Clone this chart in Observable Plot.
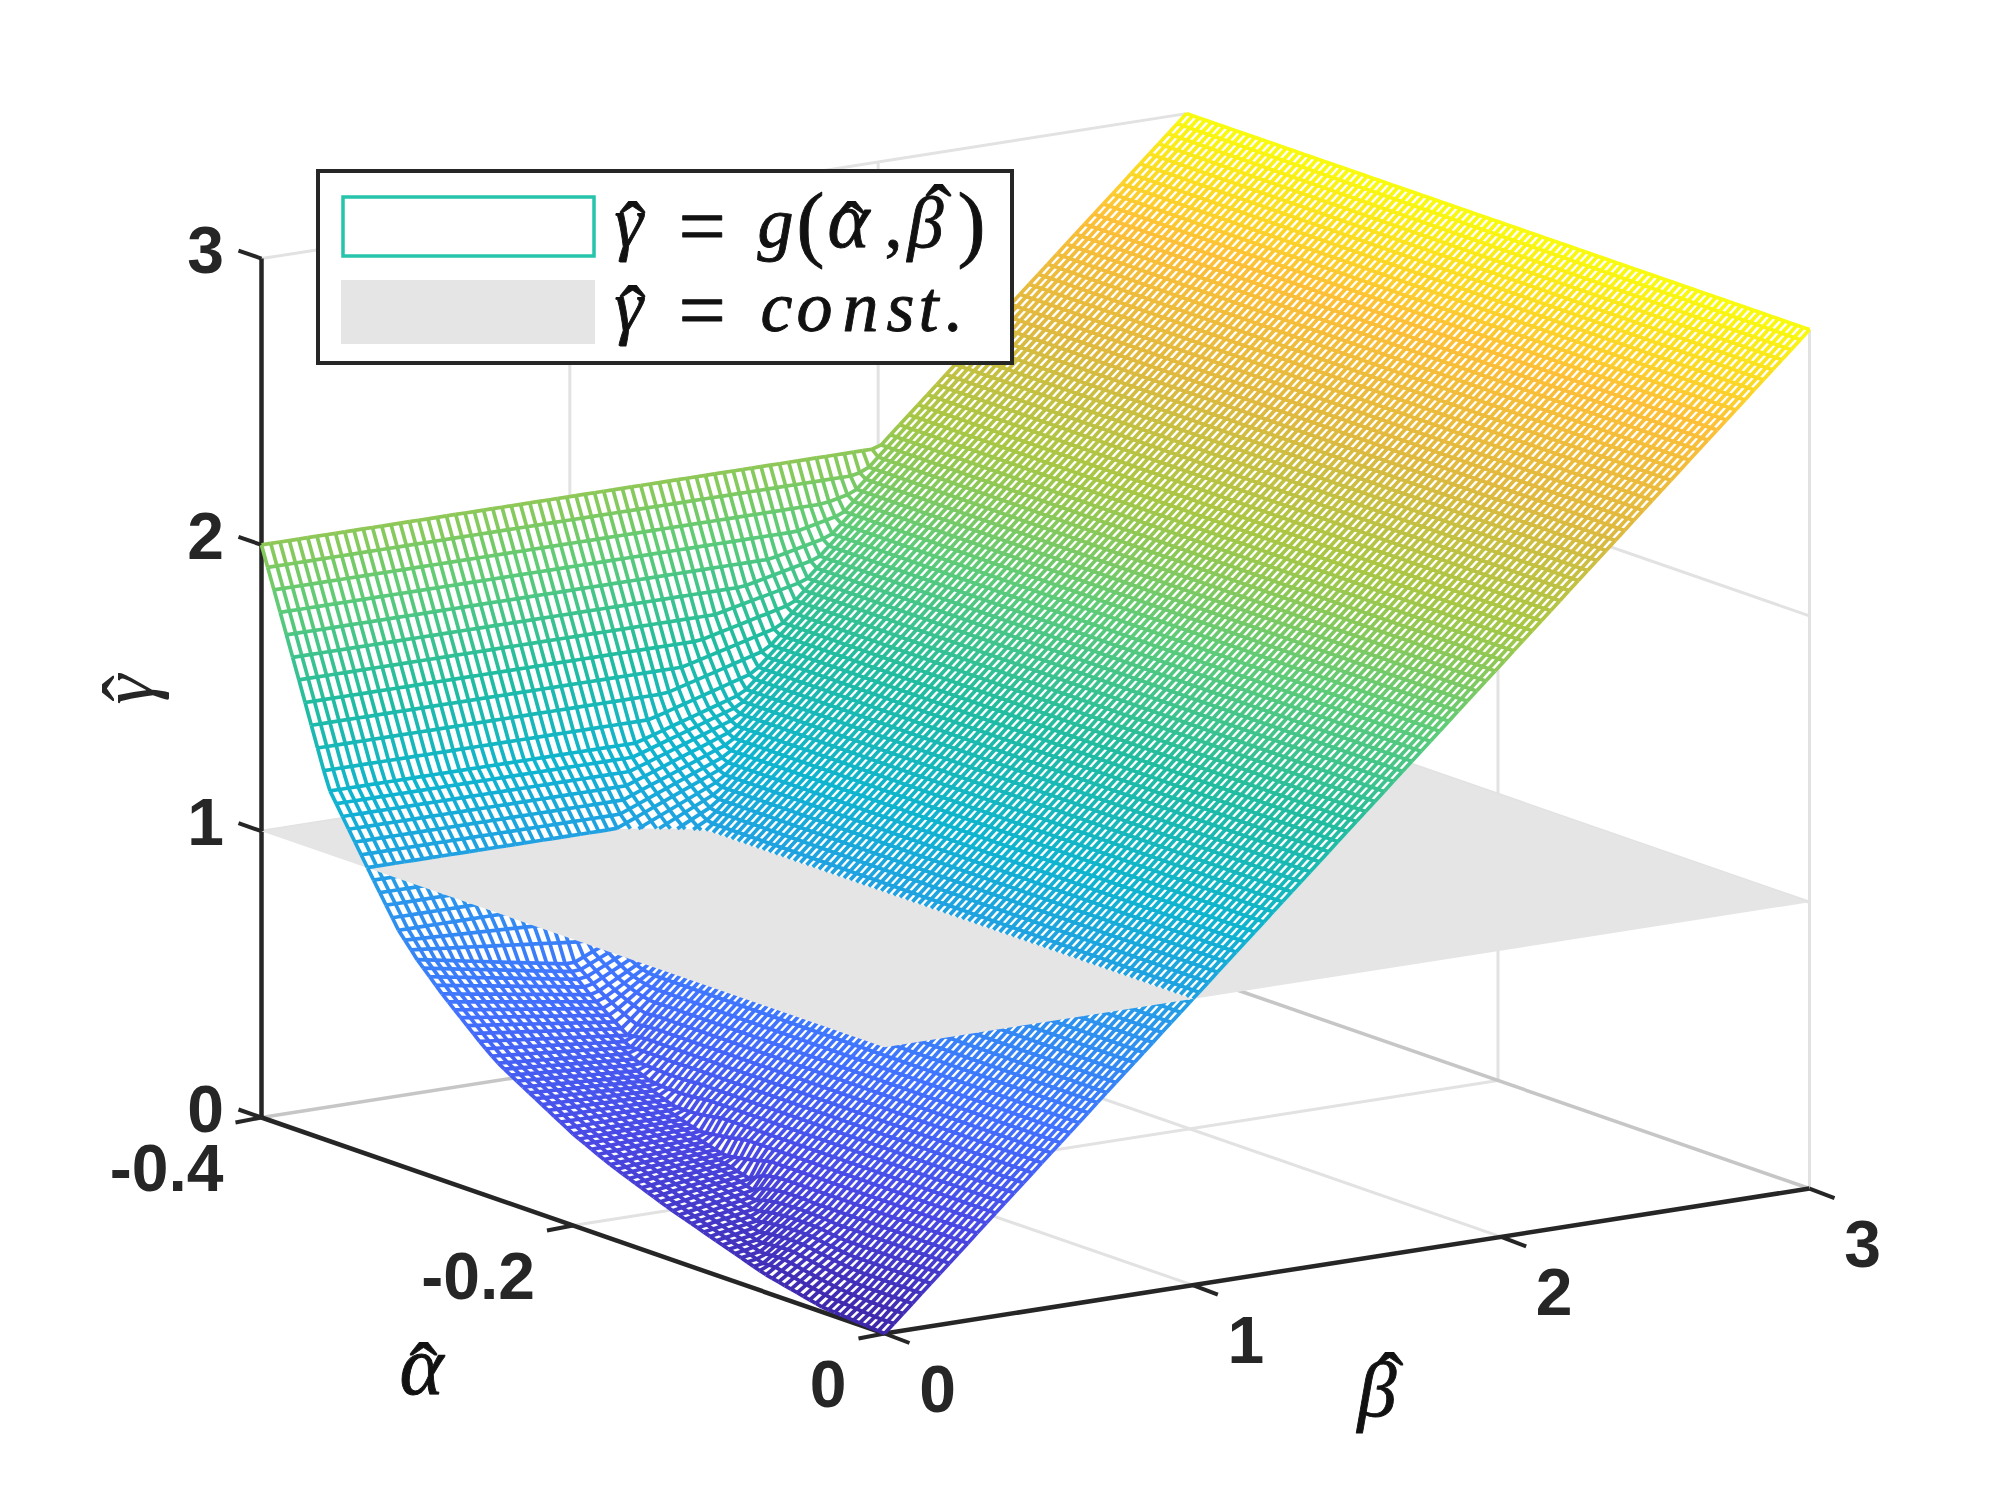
<!DOCTYPE html>
<html>
<head>
<meta charset="utf-8">
<style>html,body{margin:0;padding:0;background:#fff}svg{display:block}</style>
<script src="https://cdn.jsdelivr.net/npm/d3@7"></script>
<script src="https://cdn.jsdelivr.net/npm/@observablehq/plot@0.6"></script>
</head>
<body>
<div id="chart"></div>
<script>
// Axis ticks
const alphaTicks = [-0.4, -0.2, 0];
const betaTicks = [0, 1, 2, 3];
const gammaTicks = [0, 1, 2, 3];
const gammaConst = 1;

// Surface profile, per alpha
const alphaKnots = [-0.4, -0.376, -0.357, -0.331, -0.312, -0.3, -0.283, -0.26, -0.249, -0.234, -0.2, -0.177, -0.139, -0.077, -0.04, 0];
const plateauGamma = [2, 1.574, 1.233, 0.992, 0.82, 0.74, 0.645, 0.53, 0.48, 0.43, 0.32, 0.26, 0.178, 0.063, 0.017, 0];
const rampStartBeta = [2, 1.35, 1.0, 0.8, 0.7, 0.5, 0.49, 0.48, 0.44, 0.4, 0.35, 0.32, 0.27, 0, 0, 0];
const valleyGamma = [2, 1.574, 1.233, 0.992, 0.82, 0.64, 0.56, 0.47, 0.44, 0.4, 0.33, 0.29, 0.23, 0.063, 0.017, 0];
const joinBeta = [2, 1.644, 1.347, 1.15, 1.0, 0.76, 0.66, 0.58, 0.55, 0.5, 0.41, 0.36, 0.31, 0.22, 0.12, 0];

// Colormap of the surface (parula stops against gamma)
const colorGamma = [0, 0.3, 0.6, 0.9, 1.2, 1.5, 1.8, 2.1, 2.4, 2.7, 3];
const colorStops = ["#3e26a8", "#4a48e4", "#4272ff", "#2a97ec", "#0fb4cf", "#22bca0", "#5ecb78", "#a7c745", "#e0b93f", "#fdbf38", "#f9fb0e"];

// Projection of (alpha, beta, gamma) on the picture plane
const origin = [884, 1333];
const perAlpha = [623 / 0.4, 216 / 0.4];
const perBeta = [308.33, -48.33];
const perGamma = [0, -286.3];
const px = (a, b, g) => origin[0] + perAlpha[0] * a + perBeta[0] * b + perGamma[0] * g;
const py = (a, b, g) => origin[1] + perAlpha[1] * a + perBeta[1] * b + perGamma[1] * g;

// Mesh
const plateau = d3.scaleLinear().domain(alphaKnots).range(plateauGamma);
const rampStart = d3.scaleLinear().domain(alphaKnots).range(rampStartBeta);
const valley = d3.scaleLinear().domain(alphaKnots).range(valleyGamma);
const join = d3.scaleLinear().domain(alphaKnots).range(joinBeta);
function surface(a, b) {
  const h = plateau(a), s = rampStart(a), v = valley(a), j = join(a);
  if (b >= j) return b;
  if (b <= s) return s > 0 ? h + (v - h) * b / s : h;
  return v + (j - v) * (b - s) / (j - s);
}
const nA = 100, nB = 100;
const alphaGrid = d3.range(nA + 1).map(i => -0.4 + 0.4 * i / nA);
const betaGrid = d3.range(nB + 1).map(i => 3 * i / nB).reverse();
const P = (a, b) => ({a, b, g: surface(a, b)});
const cross = (p, q) => {
  const k = (gammaConst - p.g) / (q.g - p.g);
  return {a: p.a + k * (q.a - p.a), b: p.b + k * (q.b - p.b), g: gammaConst};
};
function clipAbove(poly) {
  const out = [];
  poly.forEach((p, i) => {
    const q = poly[(i + 1) % poly.length];
    if (p.g >= gammaConst) out.push(p);
    if ((p.g >= gammaConst) !== (q.g >= gammaConst)) out.push(cross(p, q));
  });
  return out;
}
const lowFaces = [], highFaces = [], lowEdges = [], highEdges = [];
const addEdge = (p, q) => {
  const pick = (u, v, list) => list.push({x1: px(u.a, u.b, u.g), y1: py(u.a, u.b, u.g), x2: px(v.a, v.b, v.g), y2: py(v.a, v.b, v.g), g: (u.g + v.g) / 2});
  if (p.g < gammaConst && q.g < gammaConst) pick(p, q, lowEdges);
  else if (p.g >= gammaConst && q.g >= gammaConst) pick(p, q, highEdges);
  else { const c = cross(p, q); const [lo, hi] = p.g < gammaConst ? [p, q] : [q, p]; pick(lo, c, lowEdges); pick(c, hi, highEdges); }
};
let cell = 0;
alphaGrid.forEach((a, i) => {
  betaGrid.forEach((b, j) => {
    const p = P(a, b);
    if (j < nB) addEdge(p, P(a, betaGrid[j + 1]));
    if (i < nA) addEdge(p, P(alphaGrid[i + 1], b));
    if (i < nA && j < nB) {
      const quad = [p, P(a, betaGrid[j + 1]), P(alphaGrid[i + 1], betaGrid[j + 1]), P(alphaGrid[i + 1], b)];
      cell++;
      if (quad.some(v => v.g < gammaConst)) quad.forEach(v => lowFaces.push({cell, x: px(v.a, v.b, v.g), y: py(v.a, v.b, v.g)}));
      clipAbove(quad).forEach(v => highFaces.push({cell, x: px(v.a, v.b, v.g), y: py(v.a, v.b, v.g)}));
    }
  });
});

// Walls and floor
const seg = (a1, b1, g1, a2, b2, g2) => ({x1: px(a1, b1, g1), y1: py(a1, b1, g1), x2: px(a2, b2, g2), y2: py(a2, b2, g2)});
const aMin = alphaTicks[0], aMax = alphaTicks[2], bMax = betaTicks[3], gMax = gammaTicks[3];
const gridLines = [
  ...betaTicks.slice(1).map(b => seg(aMin, b, 0, aMin, b, gMax)),
  ...alphaTicks.slice(1).map(a => seg(a, bMax, 0, a, bMax, gMax)),
  ...gammaTicks.slice(1).map(g => seg(aMin, 0, g, aMin, bMax, g)),
  ...gammaTicks.slice(1).map(g => seg(aMin, bMax, g, aMax, bMax, g)),
  ...betaTicks.slice(1, 3).map(b => seg(aMin, b, 0, aMax, b, 0)),
  seg(alphaTicks[1], 0, 0, alphaTicks[1], bMax, 0)
];
const floorEdges = [seg(aMin, 0, 0, aMin, bMax, 0), seg(aMin, bMax, 0, aMax, bMax, 0)];
const axisLines = [seg(aMin, 0, 0, aMin, 0, gMax), seg(aMin, 0, 0, aMax, 0, 0), seg(aMax, 0, 0, aMax, bMax, 0)];
const off = (s, dx, dy) => ({x1: s.x1, y1: s.y1, x2: s.x1 + dx, y2: s.y1 + dy});
const tickLines = [
  ...gammaTicks.map(g => off(seg(aMin, 0, g, aMin, 0, g), -23, -8)),
  ...alphaTicks.map(a => off(seg(a, 0, 0, a, 0, 0), -26, 5)),
  ...betaTicks.map(b => off(seg(aMax, b, 0, aMax, b, 0), 25, 9.5))
];
const plane = [[aMin, 0], [aMax, 0], [aMax, bMax], [aMin, bMax]].map(([a, b]) => ({x: px(a, b, gammaConst), y: py(a, b, gammaConst)}));

const dark = "#262626";
const ink = "#111";
const tickFont = {fontFamily: "Liberation Sans", fontWeight: "bold", fontSize: 66, fill: dark};
const txt = (t, x, y, o) => Plot.text([t], {x: () => x, y: () => y, text: d => d, ...o});
const box = (x1, y1, x2, y2, o) => Plot.rect([0], {x1: () => x1, y1: () => y1, x2: () => x2, y2: () => y2, ...o});
// math glyph: x is the left edge, base the baseline
const math = (t, x, base, size = 70, italic = true) => txt(t, x, base - 0.32 * size, {
  fontFamily: "Liberation Serif", fontStyle: italic ? "italic" : "normal", fill: ink, stroke: ink, strokeWidth: 0.9,
  fontSize: size, textAnchor: "start"
});
const hatGlyph = "\u02C6";
const hat = (cx, cy, size = 78) => txt(hatGlyph, cx, cy + 0.31 * size, {fontFamily: "Liberation Serif", fill: ink, stroke: ink, strokeWidth: 0.8, fontSize: size});
const linkOpts = {x1: "x1", y1: "y1", x2: "x2", y2: "y2"};
const meshStroke = {...linkOpts, stroke: "g", strokeWidth: 3.7, strokeLinecap: "butt"};
const rowGap = 84;
const legendRow = (dy) => [hat(632, 206 + dy), math("\u03B3", 614, 246 + dy, 72), math("=", 678, 254 + dy, 84, false)];
const constChars = ["c", "o", "n", "s", "t", "."];
const constLeft = [760, 796, 842, 886, 918, 945];

const chart = Plot.plot({
  width: 2000, height: 1500, margin: 0,
  style: {background: "#fff"},
  x: {domain: [0, 2000], axis: null},
  y: {domain: [1500, 0], axis: null},
  color: {type: "linear", domain: colorGamma, range: colorStops, interpolate: "rgb"},
  marks: [
    Plot.link(gridLines, {...linkOpts, stroke: "#e2e2e2", strokeWidth: 3}),
    Plot.link(floorEdges, {...linkOpts, stroke: "#c6c6c6", strokeWidth: 3.5}),
    Plot.link(axisLines, {...linkOpts, stroke: dark, strokeWidth: 4.5}),
    Plot.link(tickLines, {...linkOpts, stroke: dark, strokeWidth: 4}),
    Plot.line(lowFaces, {x: "x", y: "y", z: "cell", fill: "#fff", stroke: null}),
    Plot.link(lowEdges, meshStroke),
    Plot.line(plane, {x: "x", y: "y", fill: "#e5e5e5", stroke: null}),
    Plot.line(highFaces, {x: "x", y: "y", z: "cell", fill: "#fff", stroke: null}),
    Plot.link(highEdges, meshStroke),

    Plot.text(gammaTicks, {x: () => px(aMin, 0, 0), y: g => py(aMin, 0, g), text: String, dx: -56, dy: -7, ...tickFont}),
    Plot.text(alphaTicks, {x: a => px(a, 0, 0), y: a => py(a, 0, 0), text: String, dx: -38, dy: 52, textAnchor: "end", ...tickFont}),
    Plot.text(betaTicks, {x: b => px(aMax, b, 0), y: b => py(aMax, b, 0), text: String, dx: 53, dy: 57, ...tickFont}),

    // axis names
    txt("\u03B3", 128, 689, {fontFamily: "Liberation Serif", fontStyle: "italic", fill: dark, fontSize: 76, rotate: -90}),
    txt(hatGlyph, 107 + 0.31 * 80, 688, {fontFamily: "Liberation Serif", fill: dark, fontSize: 80, rotate: -90}),
    math("\u03B1", 399, 1393, 84),
    hat(423, 1348, 84),
    math("\u03B2", 1357, 1415, 78),
    hat(1389, 1358, 84),

    // legend
    box(318, 171, 1012, 363, {fill: "#fff", stroke: dark, strokeWidth: 4}),
    box(343, 197, 594, 256, {fill: "none", stroke: "#26c4ab", strokeWidth: 3.5}),
    box(341, 280, 595, 344, {fill: "#e5e5e5"}),
    ...legendRow(0),
    math("g", 757, 246, 72),
    math("(", 796, 250, 84, false),
    math("\u03B1", 827, 246, 80),
    hat(851, 206),
    math(",", 884, 246, 72, false),
    math("\u03B2", 907, 246, 72),
    hat(938, 189),
    math(")", 957, 250, 84, false),
    ...legendRow(rowGap),
    ...constChars.map((c, i) => math(c, constLeft[i], 246 + rowGap, 72))
  ]
});
document.getElementById("chart").appendChild(chart);
</script>
</body>
</html>
